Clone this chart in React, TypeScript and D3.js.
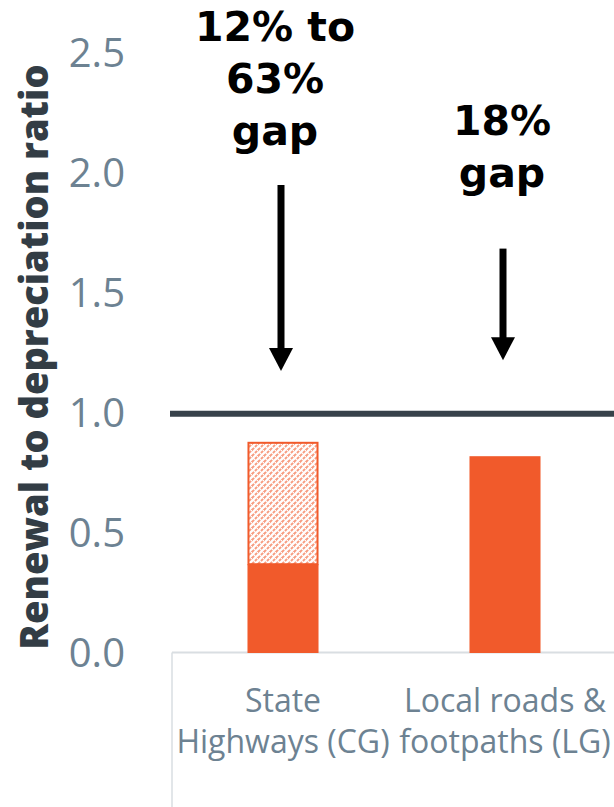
import React from 'react';
import * as d3 from 'd3';

// categories and values
const categories = ['State Highways (CG)', 'Local roads & footpaths (LG)'];
const categoryLines = [['State', 'Highways (CG)'], ['Local roads &', 'footpaths (LG)']];
const solidValues = [0.37, 0.82];   // funded renewal / depreciation
const rangeTopValues = [0.88, 0.82]; // upper end of the range (hatched)
const yTicks = [0, 0.5, 1.0, 1.5, 2.0, 2.5];
const referenceValue = 1.0;

// gap annotations: text lines, first baseline and arrow start/end in ratio units
const gapLabels = [['12% to', '63%', 'gap'], ['18%', 'gap']];
const gapTextBase = [2.55, 2.16];
const arrowFrom = [1.95, 1.685];
const arrowTo = [1.175, 1.22];

const W = 614;
const H = 807;
const orange = '#f15a2b';
const slate = '#6d8292';

const App: React.FC = () => {
    const y = d3.scaleLinear().domain([0, 2.5]).range([653, 53]);
    const x = d3.scaleBand<string>()
        .domain(categories)
        .range([172, 616])
        .paddingInner(0.68)
        .paddingOuter(0.34);
    const bw = x.bandwidth();

    return (
        <svg width={W} height={H} style={{ position: 'absolute', left: 0, top: 0, background: '#fff' }}>
            <defs>
                <pattern id="hatch" width="6" height="6" patternUnits="userSpaceOnUse">
                    <rect width="6" height="6" fill="#fff" />
                    <path d="M-1,1 l2,-2 M0,6 l6,-6 M5,7 l2,-2" stroke={orange} strokeWidth="2" strokeOpacity="0.6" strokeDasharray="3 1.2" />
                </pattern>
            </defs>

            {/* y tick labels */}
            {yTicks.map(t => (
                <text key={t} x={125} y={y(t)} dy="0.36em" textAnchor="end"
                    fontFamily="Open Sans" fontSize={40} fill={slate}>
                    {d3.format('.1f')(t)}
                </text>
            ))}

            {/* y title */}
            <text transform={`translate(48,${(y(0) + y(2.5)) / 2 + 4}) rotate(-90)`} textAnchor="middle"
                fontFamily="Open Sans" fontWeight={800} fontSize={38} fill="#333d45">
                Renewal to depreciation ratio
            </text>

            {/* axis lines */}
            <line x1={172} x2={W} y1={y(0) - 0.5} y2={y(0) - 0.5} stroke="#d9dee2" strokeWidth={2} />
            <line x1={172} x2={172} y1={y(0) - 0.5} y2={H} stroke="#d9dee2" strokeWidth={1.5} />

            {/* bars */}
            {categories.map((c, i) => {
                const x0 = x(c)!;
                return (
                    <g key={c}>
                        {rangeTopValues[i] > solidValues[i] && (
                            <rect x={x0 + 1} y={y(rangeTopValues[i]) + 1} width={bw - 2}
                                height={y(solidValues[i]) - y(rangeTopValues[i]) - 1}
                                fill="url(#hatch)" stroke={orange} strokeWidth={2} />
                        )}
                        <rect x={x0} y={y(solidValues[i])} width={bw}
                            height={y(0) - y(solidValues[i])} fill={orange} />
                    </g>
                );
            })}

            {/* reference line at 1.0 */}
            <line x1={170} x2={W} y1={y(referenceValue) + 0.7} y2={y(referenceValue) + 0.7}
                stroke="#37424a" strokeWidth={6} />

            {/* category labels */}
            {categories.map((c, i) => (
                <text key={c} x={x(c)! + bw / 2} textAnchor="middle" fontFamily="Open Sans"
                    fontSize={32} fill={slate}>
                    {categoryLines[i].map((l, j) => (
                        <tspan key={j} x={x(c)! + bw / 2} y={712 + j * 41}>{l}</tspan>
                    ))}
                </text>
            ))}

            {/* gap annotations */}
            {categories.map((c, i) => {
                const cx = x(c)! + bw / 2;
                const ax = cx - 2;
                const yEnd = y(arrowTo[i]);
                return (
                    <g key={c}>
                        <text textAnchor="middle" fontFamily="DejaVu Sans" fontWeight="bold"
                            fontSize={41} fill="#000">
                            {gapLabels[i].map((l, j) => (
                                <tspan key={j} x={cx - 8 + i * 5} y={y(gapTextBase[i]) + j * 52}>{l}</tspan>
                            ))}
                        </text>
                        <line x1={ax} x2={ax} y1={y(arrowFrom[i])} y2={yEnd - 20} stroke="#000" strokeWidth={7} />
                        <path d={`M${ax - 12},${yEnd - 23} L${ax + 12},${yEnd - 23} L${ax},${yEnd} Z`} fill="#000" />
                    </g>
                );
            })}
        </svg>
    );
};

export default App;
